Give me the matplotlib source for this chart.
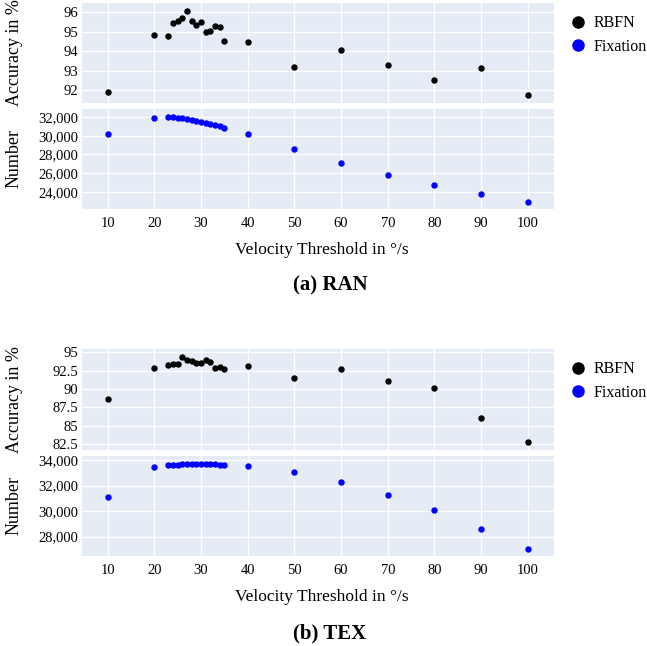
import matplotlib
matplotlib.use("Agg")
import matplotlib.pyplot as plt
from matplotlib.ticker import FuncFormatter, MultipleLocator
from matplotlib.lines import Line2D

plt.rcParams['font.family'] = ['Liberation Serif', 'DejaVu Serif']

# velocity thresholds (deg/s)
thresholds = [10, 20, 23, 24, 25, 26, 27, 28, 29, 30, 31, 32, 33, 34, 35,
              40, 50, 60, 70, 80, 90, 100]

# (a) RAN
ran_rbfn = [91.91, 94.83, 94.78, 95.47, 95.57, 95.73, 96.09, 95.57, 95.35, 95.49,
            94.97, 95.04, 95.31, 95.24, 94.54, 94.47, 93.18, 94.06, 93.27, 92.52,
            93.12, 91.73]
ran_fix = [30222, 31929, 31964, 31964, 31930, 31893, 31787, 31716, 31609, 31502,
           31360, 31253, 31147, 31004, 30862, 30151, 28551, 27129, 25778, 24711,
           23751, 22933]

# (b) TEX
tex_rbfn = [88.59, 92.84, 93.21, 93.44, 93.39, 94.40, 93.99, 93.76, 93.58, 93.48,
            93.90, 93.71, 92.93, 93.03, 92.75, 93.07, 91.52, 92.71, 91.10, 90.19,
            86.07, 82.72]
tex_fix = [31079, 33478, 33609, 33620, 33640, 33660, 33675, 33685, 33687, 33687,
           33680, 33670, 33655, 33640, 33630, 33504, 33035, 32279, 31287, 30062,
           28627, 27062]

BG = '#E5ECF6'
W = 0.1267
H_W = 0.7295

fig = plt.figure(figsize=(6.47, 6.46), dpi=100)


def style(ax):
    ax.set_facecolor(BG)
    for s in ax.spines.values():
        s.set_visible(False)
    ax.grid(True, color='white', linewidth=1.0)
    ax.set_axisbelow(True)
    ax.tick_params(length=0, labelsize=10.5, pad=3)
    ax.tick_params(axis='x', pad=6)
    ax.set_xlim(4.5, 105.6)
    ax.xaxis.set_major_locator(MultipleLocator(10))


def panel(bot_top, bot_bot, h_top, h_bot, acc, fix, acc_lim, acc_step, acc_fmt,
          fix_lim, title, label_y, title_y, leg_y):
    ax1 = fig.add_axes([W, bot_top, H_W, h_top])
    ax2 = fig.add_axes([W, bot_bot, H_W, h_bot])
    for ax in (ax1, ax2):
        style(ax)
    ax1.scatter(thresholds, acc, s=13, color='black', zorder=3)
    ax2.scatter(thresholds, fix, s=13, color='blue', zorder=3)
    ax1.set_ylim(*acc_lim)
    ax1.yaxis.set_major_locator(MultipleLocator(acc_step))
    ax1.yaxis.set_major_formatter(FuncFormatter(acc_fmt))
    ax1.tick_params(axis='x', labelbottom=False)
    ax2.set_ylim(*fix_lim)
    ax2.yaxis.set_major_locator(MultipleLocator(2000))
    ax2.yaxis.set_major_formatter(FuncFormatter(lambda v, p: f"{int(v):,}"))
    ax1.set_ylabel('Accuracy in %', fontsize=13)
    ax2.set_ylabel('Number', fontsize=13)
    ax1.yaxis.set_label_coords(-0.125, 0.5)
    ax2.yaxis.set_label_coords(-0.125, 0.5)
    fig.text(0.497, label_y, 'Velocity Threshold in °/s', ha='center', va='center',
             fontsize=12.5)
    fig.text(0.51, title_y, title, ha='center', va='center', fontsize=15,
             fontweight='bold')
    handles = [Line2D([], [], marker='o', linestyle='', color='black', markersize=8),
               Line2D([], [], marker='o', linestyle='', color='blue', markersize=8)]
    fig.legend(handles, ['RBFN', 'Fixation'], loc='upper left',
               bbox_to_anchor=(0.871, leg_y), frameon=False,
               fontsize=11.5, handletextpad=0.5, labelspacing=0.45,
               borderaxespad=0, handlelength=1.0)


panel(0.8406, 0.6765, 0.1548, 0.1548, ran_rbfn, ran_fix, (91.33, 96.48), 1,
      lambda v, p: f"{v:g}", (22190, 32850), '(a) RAN', 1 - 250 / 646, 1 - 285 / 646,
      1 - 9 / 646)
panel(0.3034, 0.1393, 0.1563, 0.1553, tex_rbfn, tex_fix, (81.68, 95.45), 2.5,
      lambda v, p: f"{v:g}", (26487, 34336), '(b) TEX', 1 - 597 / 646, 1 - 633 / 646,
      1 - 355 / 646)

fig.savefig('out.png', dpi=100)
